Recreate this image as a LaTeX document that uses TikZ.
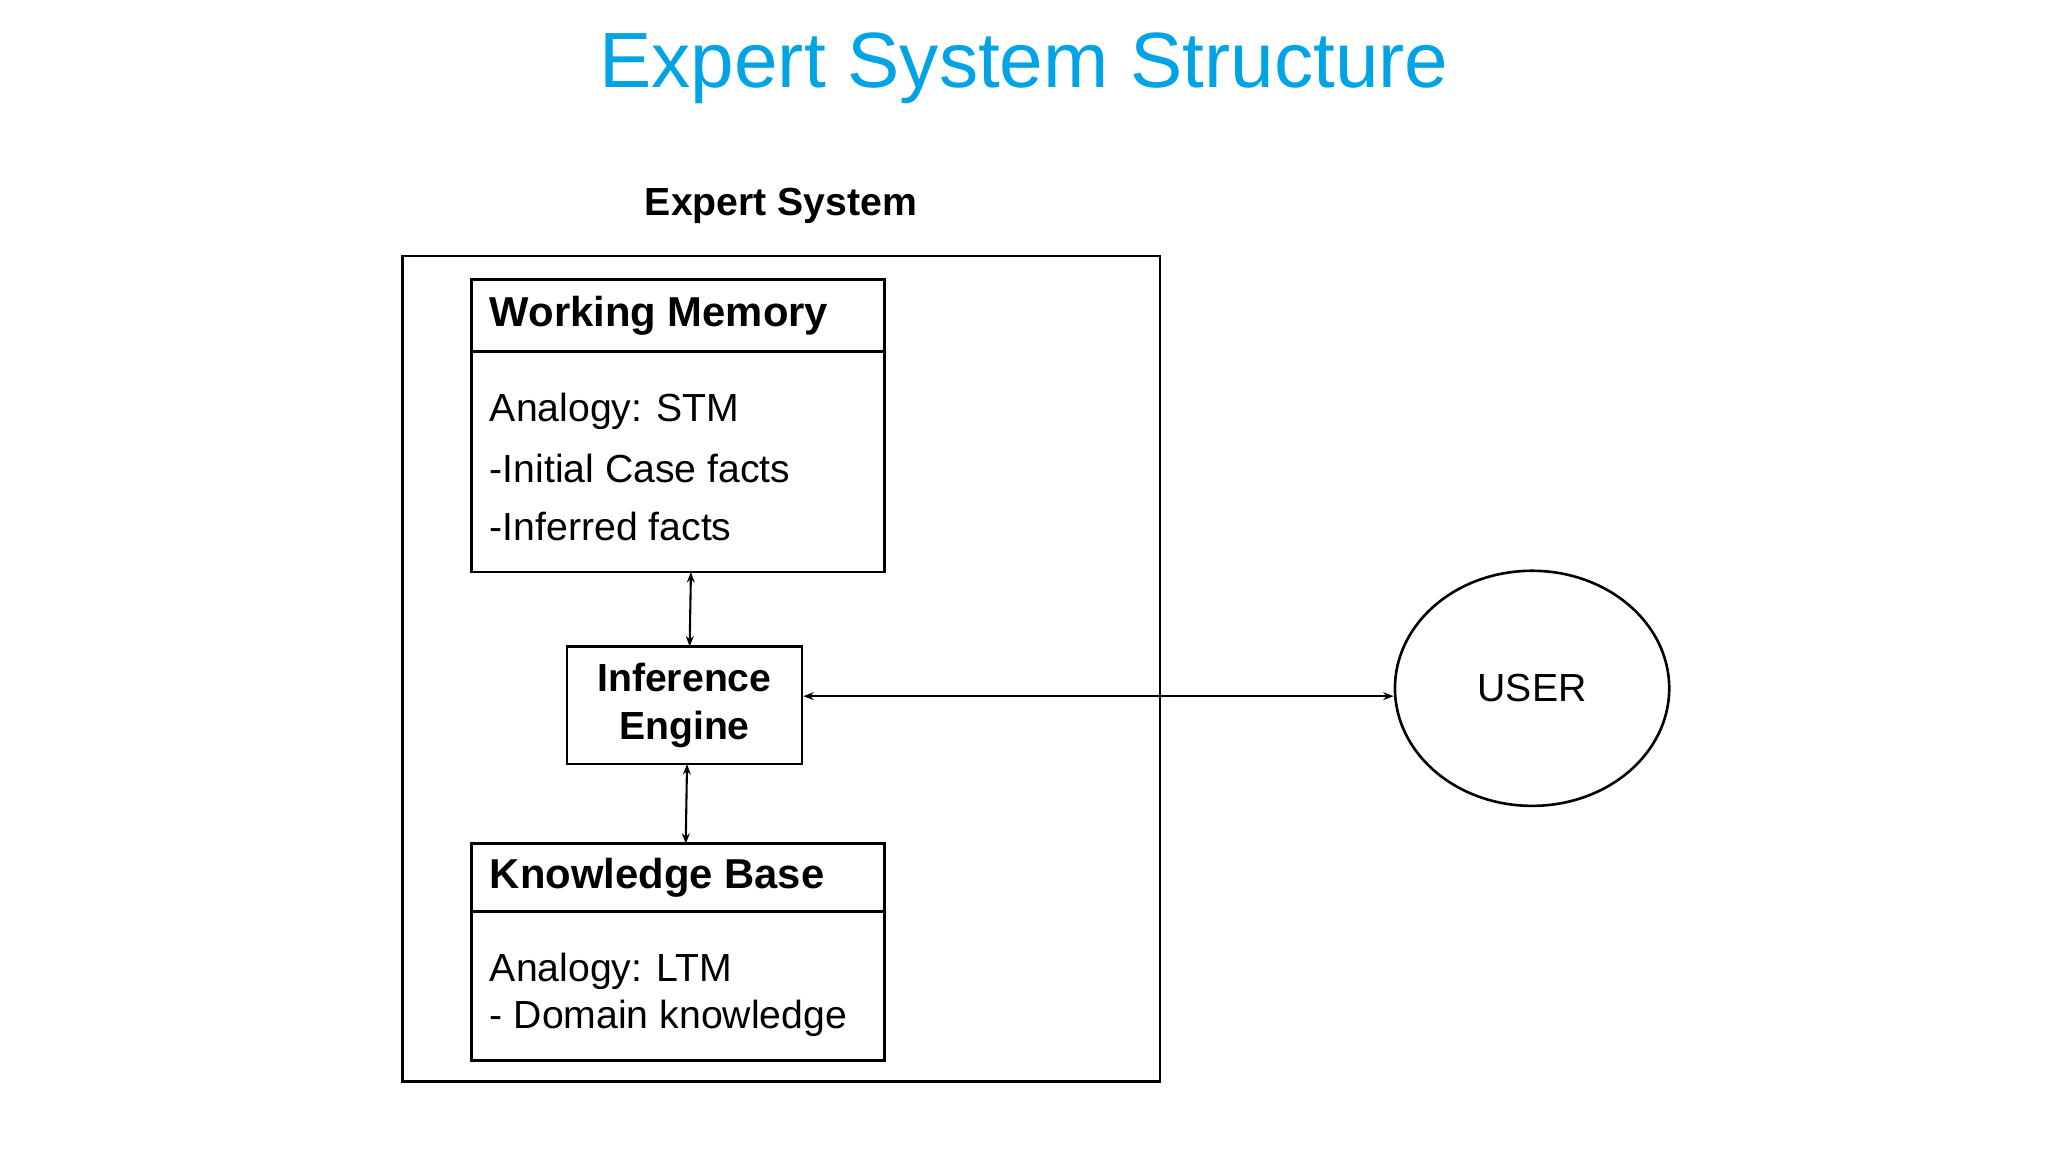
\documentclass[tikz,border=0pt]{standalone}
\usepackage{fontspec}
\setmainfont{Liberation Sans}
\usetikzlibrary{shapes.geometric,arrows.meta}
\definecolor{titleblue}{RGB}{0,164,228}
\begin{document}
\begin{tikzpicture}[x=0.5pt,y=-0.5pt,
  box/.style={draw,line width=1pt},
  conn/.style={line width=0.8pt,{Stealth[length=4pt,width=3pt]}-{Stealth[length=4pt,width=3pt]}},
  hd/.style={anchor=west,font=\fontsize{16}{19}\selectfont\bfseries},
  bd/.style={anchor=west,font=\fontsize{15}{18}\selectfont}]
\useasboundingbox (0,0) rectangle (1568,882);
\node[font=\fontsize{30}{36}\selectfont,text=titleblue] (title) at (784,52) {Expert System Structure};
\node[font=\fontsize{15}{18}\selectfont\bfseries] (eslabel) at (598,158) {Expert System};
\draw[box] (308,196) rectangle (888,828);
% Working memory
\draw[box] (361,214) rectangle (677,438);
\draw[box] (361,269) -- (677,269);
\coordinate (wmS) at (529,438);
\node[hd] (wmt) at (368,242) {Working Memory};
\node[bd] (wm1) at (368,315) {Analogy: STM};
\node[bd] (wm2) at (368,359) {-Initial Case facts};
\node[bd] (wm3) at (368,403) {-Inferred facts};
% Inference engine
\node[box,minimum width=90pt,minimum height=45pt,align=center,font=\fontsize{15}{18.5}\selectfont\bfseries] (ie) at (524,540) {Inference\\Engine};
% Knowledge base
\draw[box] (361,646) rectangle (677,812);
\draw[box] (361,698) -- (677,698);
\coordinate (kbN) at (525,646);
\node[hd] (kbt) at (368,672) {Knowledge Base};
\node[bd] (kb1) at (368,744) {Analogy: LTM};
\node[bd] (kb2) at (368,780) {- Domain knowledge};
% User
\node[draw,line width=1pt,ellipse,minimum width=105pt,minimum height=90pt,font=\fontsize{15}{18}\selectfont] (user) at (1173,527) {USER};
\draw[conn] (wmS) -- (528,495);
\draw[conn] (526,585) -- (kbN);
\draw[conn] (ie.east |- 0,533) -- (user.west |- 0,533);
\end{tikzpicture}
\end{document}
